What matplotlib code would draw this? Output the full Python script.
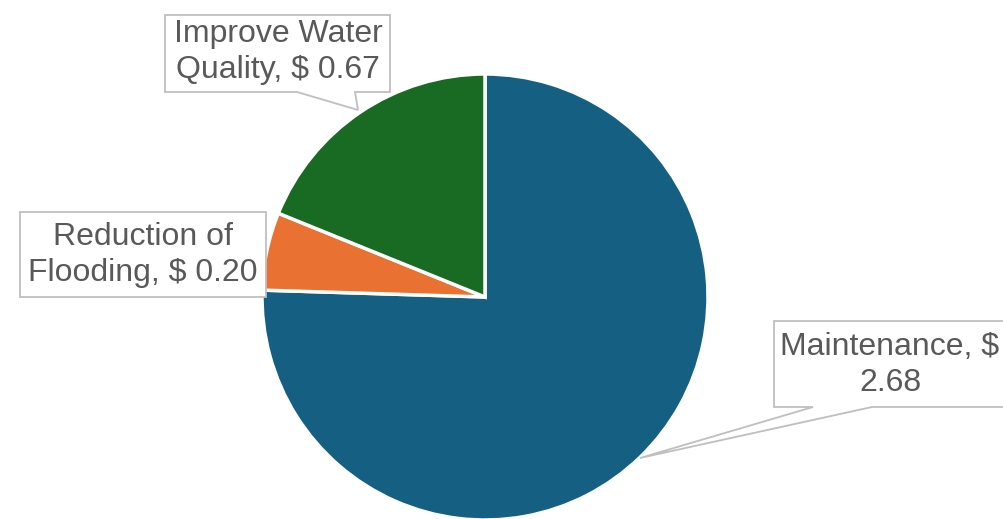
import matplotlib
matplotlib.use("Agg")
import matplotlib.pyplot as plt
from matplotlib.patches import Polygon

categories = ["Maintenance", "Reduction of Flooding", "Improve Water Quality"]
values = [2.68, 0.20, 0.67]
label_texts = ["Maintenance, $\n2.68", "Reduction of\nFlooding, $ 0.20", "Improve Water\nQuality, $ 0.67"]
colors = ["#156082", "#E97132", "#196B24"]

W, H = 1004, 519
fig = plt.figure(figsize=(W / 100, H / 100), dpi=100)
ax = fig.add_axes([0, 0, 1, 1])

def py(y):
    return H - y

ax.pie(values, colors=colors, startangle=90, counterclock=False,
       center=(485, py(297)), radius=223,
       wedgeprops=dict(edgecolor="white", linewidth=2.5), frame=True)
ax.set_xlim(0, W)
ax.set_ylim(0, H)
ax.set_aspect("equal")
ax.axis("off")

# callout boxes (pixel coords)
boxes = [
    [(774, 321), (1010, 321), (1010, 407), (872, 407), (640, 458), (813, 407), (774, 407)],
    [(20, 212), (266, 212), (266, 297), (20, 297)],
    [(165, 15), (390, 15), (390, 92), (355, 92), (358, 110), (297, 92), (165, 92)],
]
text_pos = [(890, 365), (143, 255), (278, 52)]
for pts, txt, (tx, ty) in zip(boxes, label_texts, text_pos):
    poly = Polygon([(x, py(y)) for x, y in pts], closed=True, facecolor="white",
                   edgecolor="#BFBFBF", linewidth=1.3, zorder=5)
    ax.add_patch(poly)
    ax.text(tx, py(ty), txt, ha="center", va="center", fontsize=23,
            family="Liberation Sans", color="#595959", linespacing=1.22, zorder=6)

fig.savefig("out.png", dpi=100)
